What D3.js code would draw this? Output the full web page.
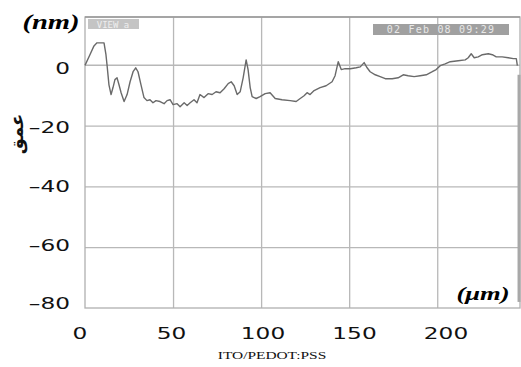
<!DOCTYPE html>
<html>
<head>
<meta charset="utf-8">
<script src="https://cdn.jsdelivr.net/npm/d3@7"></script>
<style>
  html, body { margin: 0; padding: 0; background: #fff; }
  svg { display: block; }
</style>
</head>
<body>
<svg id="chart" width="521" height="367"></svg>
<script>
// surface profile, depth (nm) against distance (um)

const distUm = [0, 2.8, 5.1, 6.8, 10.8, 11.9, 12.5, 13.6, 14.8, 15.9, 17.0, 18.2, 19.3, 20.5, 22.2, 23.9,
  25.6, 27.3, 28.8, 30.1, 31.8, 33.5, 35.2, 36.9, 38.6, 40.3, 42.6, 44.9, 46.6, 48.3, 50.0, 52.3,
  54.0, 56.3, 58.0, 59.7, 61.9, 63.6, 65.3, 67.6, 69.9, 72.2, 74.4, 76.7, 79.0, 81.3, 83.0, 84.7,
  86.4, 88.1, 89.8, 91.5, 92.6, 93.8, 94.9, 97.2, 99.4, 102.3, 105.1, 108.0, 111.9, 116.5, 119.9,
  122.2, 124.4, 126.1, 127.8, 130.1, 133.5, 136.9, 140.3, 142.0, 143.8, 145.5, 147.7, 150.6, 154.0,
  156.3, 158.5, 160.2, 161.9, 164.8, 167.6, 170.5, 174.4, 177.8, 180.7, 183.5, 186.9, 190.3, 193.8,
  197.2, 199.4, 201.7, 204.5, 207.4, 211.9, 215.9, 217.6, 219.3, 221.0, 223.3, 225.6, 229.0, 231.3,
  233.5, 236.9, 240.3, 243.2, 244.9, 245.5];
const depthNm = [-0.2, 3.3, 6.2, 7.2, 7.2, 3.3, 0, -6.6, -9.8, -7.5, -4.9, -4.3, -6.6, -9.2, -12.1, -9.8,
  -5.6, -2.3, -1.0, -2.3, -6.6, -10.8, -11.8, -11.5, -12.5, -11.8, -12.1, -12.8, -11.8, -11.5, -13.1, -12.8,
  -13.8, -12.5, -13.4, -12.5, -11.5, -12.5, -9.8, -10.8, -9.5, -9.8, -8.9, -9.2, -7.9, -6.2, -5.6, -6.9,
  -9.8, -8.9, -4.3, 1.6, -1.6, -7.5, -10.5, -11.1, -10.5, -9.5, -9.2, -11.1, -11.5, -11.8, -12.1,
  -11.1, -10.2, -9.2, -9.8, -8.5, -7.5, -6.9, -5.6, -3.6, 1.0, -1.6, -1.3, -1.3, -1.0,
  -0.7, 0.7, -1.0, -2.3, -3.3, -3.9, -4.6, -4.6, -4.3, -3.3, -3.6, -3.9, -3.6, -3.3,
  -2.3, -1.6, -0.3, 0.3, 1.0, 1.3, 1.6, 2.3, 3.6, 2.3, 2.6, 3.3, 3.6, 3.3,
  2.6, 2.6, 2.3, 2.0, 2.0, -0.3];

const xTicks = [0, 50, 100, 150, 200];
const xTickLabels = ["0", "50", "100", "150", "200"];
const yTicks = [0, -20, -40, -60, -80];
const yTickLabels = ["0", "\u201320", "\u201340", "\u201360", "\u201380"];

const svg = d3.select("#chart");
const plotL = 85, plotR = 520, plotT = 17, plotB = 308;

var x = d3.scaleLinear().domain([0, 247]).range([plotL, plotR]);
var y = d3.scaleLinear().domain([-80, 15.7]).range([plotB, plotT]);
// the tick numbers were laid over the plot a bit off the grid
var xLab = d3.scaleLinear().domain([0, 200]).range([80, 446]);
var yLab = d3.scaleLinear().domain([0, -80]).range([68.5, 304]);

// grid
svg.append("g")
  .attr("transform", "translate(0," + plotB + ")")
  .call(d3.axisBottom(x).tickValues(xTicks.slice(1)).tickSize(-(plotB - plotT)).tickFormat(""))
  .call(g => g.select(".domain").remove())
  .selectAll("line").attr("stroke", "#b8b8b8").attr("stroke-width", 1.3);

svg.append("g")
  .attr("transform", "translate(" + plotL + ",0)")
  .call(d3.axisLeft(y).tickValues(yTicks.slice(0, 4)).tickSize(-(plotR - plotL)).tickFormat(""))
  .call(g => g.select(".domain").remove())
  .selectAll("line").attr("stroke", "#b8b8b8").attr("stroke-width", 1.3);

// frame
svg.append("rect")
  .attr("x", plotL).attr("y", plotT)
  .attr("width", plotR - plotL).attr("height", plotB - plotT)
  .attr("fill", "none").attr("stroke", "#b0b0b0").attr("stroke-width", 1.3);
svg.append("line")
  .attr("x1", plotL).attr("x2", plotR).attr("y1", plotT).attr("y2", plotT)
  .attr("stroke", "#999").attr("stroke-width", 1.3);

// scroll strip on the right edge
svg.append("rect")
  .attr("x", x(245.6)).attr("y", y(-3.3))
  .attr("width", 3).attr("height", y(-78) - y(-3.3))
  .attr("fill", "#a8a8a8");

// info boxes
svg.append("rect").attr("x", 88).attr("y", 19).attr("width", 51).attr("height", 10).attr("fill", "#c4c4c4");
svg.append("text").attr("x", 113).attr("y", 27.5).attr("text-anchor", "middle")
  .attr("font-family", "DejaVu Sans Mono").attr("font-size", 9).attr("fill", "#eee")
  .text("VIEW a");
svg.append("rect").attr("x", 373).attr("y", 24).attr("width", 136).attr("height", 11).attr("fill", "#a0a0a0");
svg.append("text").attr("x", 441).attr("y", 33).attr("text-anchor", "middle")
  .attr("font-family", "DejaVu Sans Mono").attr("font-size", 10).attr("fill", "#e8e8e8")
  .attr("letter-spacing", 1.2)
  .text("02 Feb 08 09:29");

// profile
var line = d3.line()
  .x(function (d, i) { return x(distUm[i]); })
  .y(function (d) { return y(d); });

svg.append("path")
  .datum(depthNm)
  .attr("d", line)
  .attr("fill", "none")
  .attr("stroke", "#6a6a6a")
  .attr("stroke-width", 1.4)
  .attr("stroke-linejoin", "round");

// tick labels (wide face, stretched)
svg.append("g").selectAll("text")
  .data(yTicks)
  .enter().append("text")
  .attr("transform", function (d) { return "translate(70," + yLab(d) + ") scale(1.55,1)"; })
  .attr("dy", "0.36em")
  .attr("text-anchor", "end")
  .attr("font-family", "DejaVu Sans")
  .attr("font-size", 15)
  .attr("fill", "#111")
  .text(function (d, i) { return yTickLabels[i]; });

svg.append("g").selectAll("text")
  .data(xTicks)
  .enter().append("text")
  .attr("transform", function (d) { return "translate(" + xLab(d) + ",333.5) scale(1.55,1)"; })
  .attr("dy", "0.36em")
  .attr("text-anchor", "middle")
  .attr("font-family", "DejaVu Sans")
  .attr("font-size", 15)
  .attr("fill", "#111")
  .text(function (d, i) { return xTickLabels[i]; });

// unit labels
svg.append("text")
  .attr("transform", "translate(51,29) scale(1.3,1)")
  .attr("text-anchor", "middle")
  .attr("font-family", "Liberation Serif")
  .attr("font-weight", "bold").attr("font-style", "italic")
  .attr("font-size", 22).attr("fill", "#000")
  .text("(nm)");

svg.append("text")
  .attr("transform", "translate(483,300) scale(1.4,1)")
  .attr("text-anchor", "middle")
  .attr("font-family", "Liberation Serif")
  .attr("font-weight", "bold").attr("font-style", "italic")
  .attr("font-size", 19).attr("fill", "#000")
  .text("(\u03bcm)");

svg.append("text")
  .attr("transform", "translate(17,134) rotate(-90)")
  .attr("dy", "0.35em")
  .attr("text-anchor", "middle")
  .attr("font-family", "DejaVu Sans")
  .attr("font-weight", "bold")
  .attr("font-size", 18).attr("fill", "#111")
  .text("عمق");

svg.append("text")
  .attr("transform", "translate(272,359) scale(1.4,1)")
  .attr("text-anchor", "middle")
  .attr("font-family", "Liberation Serif")
  .attr("font-size", 11).attr("fill", "#111")
  .text("ITO/PEDOT:PSS");
</script>
</body>
</html>
